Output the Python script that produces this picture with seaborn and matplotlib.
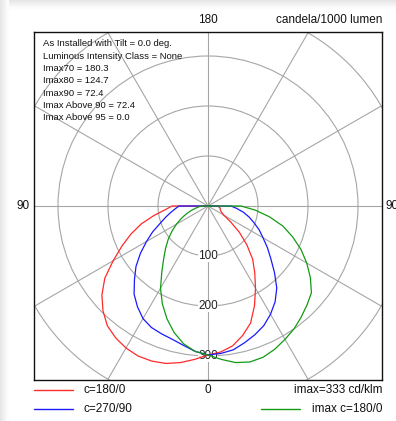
import numpy as np
import pandas as pd
import seaborn as sns
import matplotlib.pyplot as plt
from matplotlib.patches import Circle, Rectangle

# vertical angle (deg from nadir) and intensity in candela/1000 lumen
gamma = [0, 5, 10, 15, 20, 25, 30, 35, 40, 45, 50, 55, 60, 65, 70, 75, 80, 85, 90]

red_left = [298, 308, 318, 326, 330, 331, 328, 322, 313, 297, 277, 252, 219, 190, 164, 138, 110, 86, 72]
red_right = [298, 293, 284, 268, 249, 220, 190, 163, 139, 110, 82, 55, 36, 30, 27, 25, 25, 22, 20]
blue_left = [298, 292, 283, 276, 272, 268, 260, 246, 230, 208, 188, 165, 142, 122, 102, 88, 76, 66, 58]
blue_right = [298, 296, 292, 283, 274, 264, 250, 234, 214, 188, 164, 145, 127, 113, 98, 85, 72, 58, 46]
green_left = [298, 292, 280, 262, 240, 216, 190, 161, 138, 120, 104, 88, 73, 59, 46, 35, 25, 18, 12]
green_right = [298, 308, 318, 323, 322, 316, 308, 300, 290, 280, 270, 250, 228, 205, 180, 155, 125, 95, 66]

rings = [100, 200, 300, 400]
ring_labels = ["100", "200", "300"]
info_lines = [
    "As Installed with Tilt = 0.0 deg.",
    "Luminous Intensity Class = None",
    "Imax70 = 180.3",
    "Imax80 = 124.7",
    "Imax90 = 72.4",
    "Imax Above 90 = 72.4",
    "Imax Above 95 = 0.0",
]


def polar_xy(left, right):
    g = np.radians(gamma)
    l = np.asarray(left, float)
    r = np.asarray(right, float)
    x = np.concatenate([[0], (-l * np.sin(g))[::-1], r * np.sin(g), [0]])
    y = np.concatenate([[0], (-l * np.cos(g))[::-1], -r * np.cos(g), [0]])
    return pd.DataFrame({"x": x, "y": y})


sns.set_style("white")
plt.rcParams['font.family'] = ['Liberation Sans', 'DejaVu Sans']

fig = plt.figure(figsize=(3.96, 4.21), dpi=100)
ax = fig.add_axes([34 / 396, 41 / 421, 348 / 396, 348 / 421])

# soft shadow at the left and top edges
for i in range(8):
    c = str(0.90 + i * 0.0125)
    fig.patches.append(Rectangle((i / 396, 0), 1 / 396, 1, transform=fig.transFigure,
                                 color=c, zorder=-10))
    fig.patches.append(Rectangle((i / 396, 1 - (i + 1) / 421), 1, 1 / 421,
                                 transform=fig.transFigure, color=c, zorder=-10))

grid_col = "#a6a6a6"
for rr in rings:
    ax.add_patch(Circle((0, 0), rr, fill=False, ec=grid_col, lw=0.8, zorder=1))
for a in range(0, 360, 30):
    t = np.radians(a)
    ax.plot([0, 400 * np.sin(t)], [0, 400 * np.cos(t)], color=grid_col, lw=0.8, zorder=1)

for lab in ring_labels:
    ax.text(0, -float(lab), lab, ha="center", va="center", fontsize=8.5, color="#222222",
            zorder=2, bbox=dict(fc="white", ec="none", pad=0.3))

red, blue, green = "#ff2a2a", "#1a1aff", "#139a13"
curves = [(red_left, red_right, red), (blue_left, blue_right, blue),
          (green_left, green_right, green)]
for left, right, col in curves:
    df = polar_xy(left, right)
    sns.lineplot(data=df, x="x", y="y", sort=False, estimator=None, color=col,
                 lw=0.9, ax=ax, zorder=3)

ax.set_xlim(-348, 348)
ax.set_ylim(-348, 348)
ax.set_aspect("auto")
ax.set_xticks([])
ax.set_yticks([])
ax.set_xlabel("")
ax.set_ylabel("")
for s in ax.spines.values():
    s.set_color("#111111")
    s.set_linewidth(1.0)

fs = 8.5
tc = "#111111"
ax.text(0, 372, "180", ha="center", va="center", fontsize=fs, color=tc, clip_on=False)
ax.text(348, 372, "candela/1000 lumen", ha="right", va="center", fontsize=fs, color=tc, clip_on=False)
ax.text(-356, 0, "90", ha="right", va="center", fontsize=fs, color=tc, clip_on=False)
ax.text(354, 0, "90", ha="left", va="center", fontsize=fs, color=tc, clip_on=False)
ax.text(0, -368, "0", ha="center", va="center", fontsize=fs, color=tc, clip_on=False)
ax.text(348, -368, "imax=333 cd/klm", ha="right", va="center", fontsize=fs, color=tc, clip_on=False)
ax.text(348, -406, "imax c=180/0", ha="right", va="center", fontsize=fs, color=tc, clip_on=False)
ax.text(-250, -368, "c=180/0", ha="left", va="center", fontsize=fs, color=tc, clip_on=False)
ax.text(-250, -406, "c=270/90", ha="left", va="center", fontsize=fs, color=tc, clip_on=False)
ax.plot([-348, -270], [-368, -368], color=red, lw=1.0, clip_on=False)
ax.plot([-348, -270], [-406, -406], color=blue, lw=1.0, clip_on=False)
ax.plot([106, 184], [-406, -406], color=green, lw=1.0, clip_on=False)

for i, line in enumerate(info_lines):
    ax.text(-330, 324 - i * 24.6, line, ha="left", va="center", fontsize=6.8,
            color=tc, zorder=4)

fig.savefig("out.png", dpi=100)
